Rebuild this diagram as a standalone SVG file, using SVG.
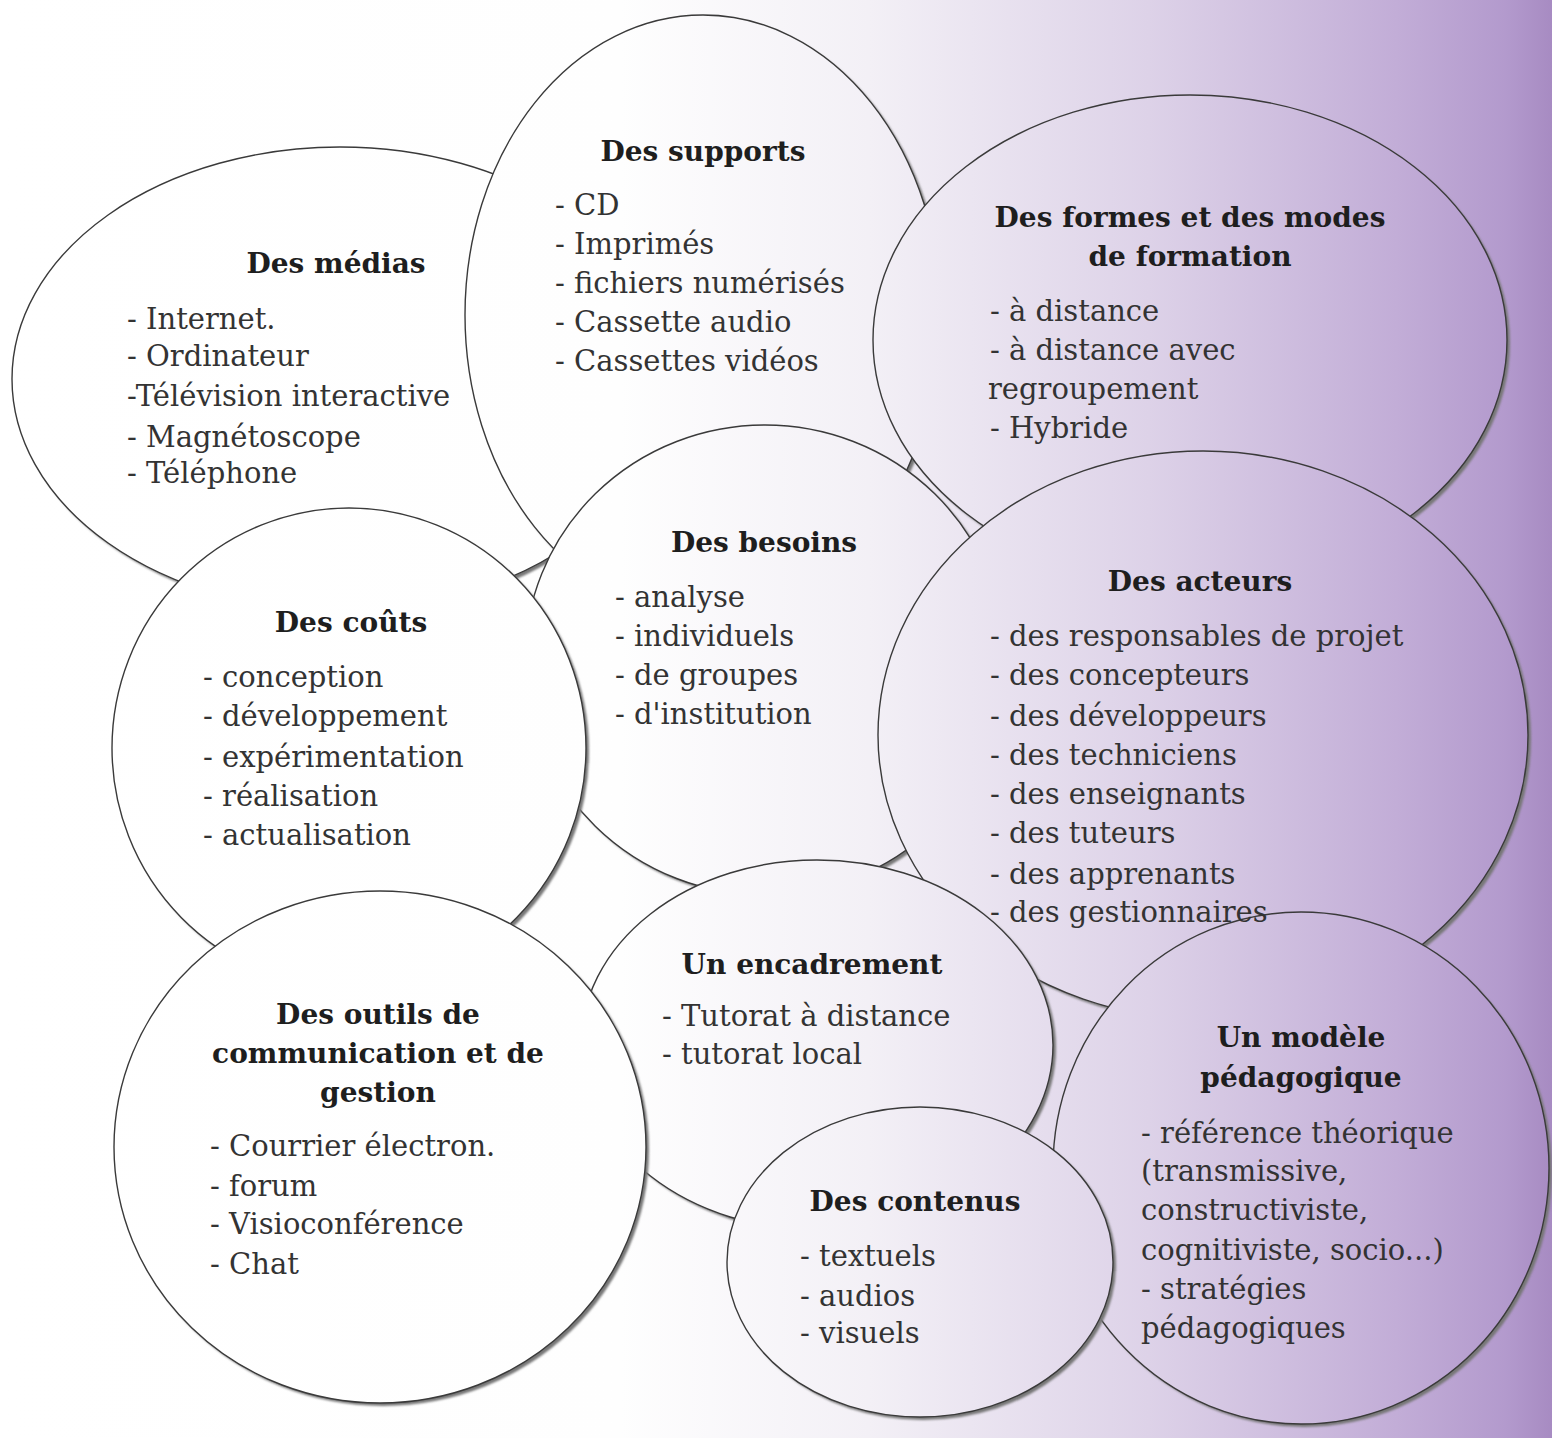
<svg xmlns="http://www.w3.org/2000/svg" width="1552" height="1438" viewBox="0 0 1552 1438">
<defs>
<linearGradient id="bg" gradientUnits="userSpaceOnUse" x1="0" y1="0" x2="1552" y2="0">
<stop offset="0" stop-color="#ffffff"/>
<stop offset="0.4" stop-color="#fefefe"/>
<stop offset="0.56" stop-color="#f3f0f6"/>
<stop offset="0.74" stop-color="#ddd2e8"/>
<stop offset="0.9" stop-color="#c2add7"/>
<stop offset="0.97" stop-color="#b39acd"/>
<stop offset="1" stop-color="#a78bc2"/>
</linearGradient>
<filter id="blur" x="-5%" y="-5%" width="110%" height="110%"><feGaussianBlur stdDeviation="1.2"/></filter>
</defs>
<style>
.sh{fill:#777777;filter:url(#blur)}
.n{fill:url(#bg);stroke:#3a3a3a;stroke-width:1.4}
.t{font-family:"DejaVu Serif","Liberation Serif",serif;font-weight:bold;font-size:28px;fill:#1e1e1e;text-anchor:middle}
.i{font-family:"DejaVu Serif","Liberation Serif",serif;font-size:29px;fill:#333333}
</style>
<rect x="0" y="0" width="1552" height="1438" fill="url(#bg)"/>

<g id="node-medias">
<ellipse class="sh" cx="343" cy="382" rx="328" ry="232"/>
<ellipse class="n" cx="340" cy="379" rx="328" ry="232"/>
</g>
<g id="node-supports">
<ellipse class="sh" cx="706" cy="318" rx="238" ry="300"/>
<ellipse class="n" cx="703" cy="315" rx="238" ry="300"/>
</g>
<g id="node-formes">
<ellipse class="sh" cx="1193" cy="343" rx="317" ry="245"/>
<ellipse class="n" cx="1190" cy="340" rx="317" ry="245"/>
</g>
<g id="node-besoins">
<ellipse class="sh" cx="768" cy="663" rx="240" ry="235"/>
<ellipse class="n" cx="765" cy="660" rx="240" ry="235"/>
</g>
<g id="node-couts">
<ellipse class="sh" cx="352" cy="751" rx="237" ry="240"/>
<ellipse class="n" cx="349" cy="748" rx="237" ry="240"/>
</g>
<g id="node-acteurs">
<ellipse class="sh" cx="1206" cy="738" rx="325" ry="284"/>
<ellipse class="n" cx="1203" cy="735" rx="325" ry="284"/>
</g>
<g id="node-encadrement">
<ellipse class="sh" cx="820" cy="1048" rx="236" ry="185"/>
<ellipse class="n" cx="817" cy="1045" rx="236" ry="185"/>
</g>
<g id="node-outils">
<ellipse class="sh" cx="383" cy="1150" rx="266" ry="256"/>
<ellipse class="n" cx="380" cy="1147" rx="266" ry="256"/>
</g>
<g id="node-modele">
<ellipse class="sh" cx="1304" cy="1171" rx="248" ry="256"/>
<ellipse class="n" cx="1301" cy="1168" rx="248" ry="256"/>
</g>
<g id="node-contenus">
<ellipse class="sh" cx="923" cy="1265" rx="193" ry="155"/>
<ellipse class="n" cx="920" cy="1262" rx="193" ry="155"/>
</g>

<g id="label-medias">
<text class="t" x="336" y="273">Des médias</text>
<text class="i" x="127" y="329">- Internet.</text>
<text class="i" x="127" y="366">- Ordinateur</text>
<text class="i" x="127" y="406">-Télévision interactive</text>
<text class="i" x="127" y="447">- Magnétoscope</text>
<text class="i" x="127" y="483">- Téléphone</text>
</g>
<g id="label-supports">
<text class="t" x="703" y="161">Des supports</text>
<text class="i" x="555" y="215">- CD</text>
<text class="i" x="555" y="254">- Imprimés</text>
<text class="i" x="555" y="293">- fichiers numérisés</text>
<text class="i" x="555" y="332">- Cassette audio</text>
<text class="i" x="555" y="371">- Cassettes vidéos</text>
</g>
<g id="label-formes">
<text class="t" x="1190" y="227">Des formes et des modes</text>
<text class="t" x="1190" y="266">de formation</text>
<text class="i" x="990" y="321">- à distance</text>
<text class="i" x="990" y="360">- à distance avec</text>
<text class="i" x="988" y="399">regroupement</text>
<text class="i" x="990" y="438">- Hybride</text>
</g>
<g id="label-besoins">
<text class="t" x="764" y="552">Des besoins</text>
<text class="i" x="615" y="607">- analyse</text>
<text class="i" x="615" y="646">- individuels</text>
<text class="i" x="615" y="685">- de groupes</text>
<text class="i" x="615" y="724">- d'institution</text>
</g>
<g id="label-couts">
<text class="t" x="351" y="632">Des coûts</text>
<text class="i" x="203" y="687">- conception</text>
<text class="i" x="203" y="726">- développement</text>
<text class="i" x="203" y="767">- expérimentation</text>
<text class="i" x="203" y="806">- réalisation</text>
<text class="i" x="203" y="845">- actualisation</text>
</g>
<g id="label-acteurs">
<text class="t" x="1200" y="591">Des acteurs</text>
<text class="i" x="990" y="646">- des responsables de projet</text>
<text class="i" x="990" y="685">- des concepteurs</text>
<text class="i" x="990" y="726">- des développeurs</text>
<text class="i" x="990" y="765">- des techniciens</text>
<text class="i" x="990" y="804">- des enseignants</text>
<text class="i" x="990" y="843">- des tuteurs</text>
<text class="i" x="990" y="884">- des apprenants</text>
<text class="i" x="990" y="922">- des gestionnaires</text>
</g>
<g id="label-outils">
<text class="t" x="378" y="1024">Des outils de</text>
<text class="t" x="378" y="1063">communication et de</text>
<text class="t" x="378" y="1102">gestion</text>
<text class="i" x="210" y="1156">- Courrier électron.</text>
<text class="i" x="210" y="1196">- forum</text>
<text class="i" x="210" y="1234">- Visioconférence</text>
<text class="i" x="210" y="1274">- Chat</text>
</g>
<g id="label-encadrement">
<text class="t" x="812" y="974">Un encadrement</text>
<text class="i" x="662" y="1026">- Tutorat à distance</text>
<text class="i" x="662" y="1064">- tutorat local</text>
</g>
<g id="label-contenus">
<text class="t" x="915" y="1211">Des contenus</text>
<text class="i" x="800" y="1266">- textuels</text>
<text class="i" x="800" y="1306">- audios</text>
<text class="i" x="800" y="1343">- visuels</text>
</g>
<g id="label-modele">
<text class="t" x="1301" y="1047">Un modèle</text>
<text class="t" x="1301" y="1087">pédagogique</text>
<text class="i" x="1141" y="1143">- référence théorique</text>
<text class="i" x="1141" y="1181">(transmissive,</text>
<text class="i" x="1141" y="1220">constructiviste,</text>
<text class="i" x="1141" y="1260">cognitiviste, socio...)</text>
<text class="i" x="1141" y="1299">- stratégies</text>
<text class="i" x="1141" y="1338">pédagogiques</text>
</g>
</svg>
